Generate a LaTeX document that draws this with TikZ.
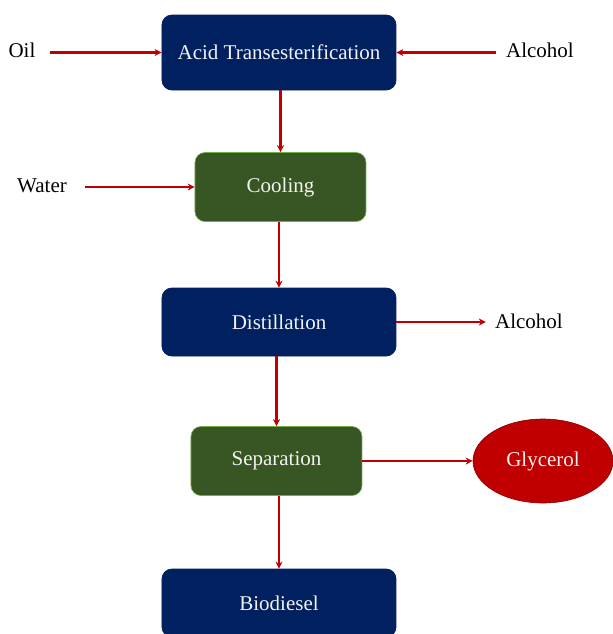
\documentclass[tikz,border=0pt]{standalone}
\usepackage{fontspec}
\setmainfont{Liberation Serif}
\usetikzlibrary{arrows.meta,shapes.geometric}
\definecolor{navybox}{HTML}{002060}
\definecolor{greenbox}{HTML}{375623}
\definecolor{greenline}{HTML}{70AD47}
\definecolor{redflow}{HTML}{C00000}
\definecolor{boxtext}{HTML}{F2F2F2}
\begin{document}
\begin{tikzpicture}[x=0.5pt, y=-0.5pt,
	  font=\fontsize{10.5}{12}\selectfont,
	  navy/.style={rectangle, rounded corners=5pt, fill=navybox, draw=navybox, text=boxtext, minimum width=117pt, minimum height=34pt},
	  green/.style={rectangle, rounded corners=5pt, fill=greenbox, draw=greenline, line width=0.3pt, text=boxtext, minimum width=85.5pt, minimum height=34.5pt},
	  label/.style={inner sep=0pt, text=black},
	  flow/.style={-{Stealth[length=3.5pt,width=3.5pt]}, draw=redflow, line width=1.3pt}]
	\useasboundingbox (0,0) rectangle (613,634);
	% process boxes
	\node[navy, minimum height=37.5pt] (acid) at (279,52.5) {Acid Transesterification};
	\node[green] (cool) at (280.5,187) {Cooling};
	\node[navy] (dist) at (279,322) {Distillation};
	\node[green] (sep) at (276.5,461) {Separation};
	\node[navy] (bio) at (279,603) {Biodiesel};
	\node[ellipse, fill=redflow, draw=redflow!70!black, line width=0.3pt, text=boxtext, minimum width=70pt, minimum height=42pt, inner sep=0pt] (gly) at (543,461) {Glycerol};
	% inputs and outputs
	\node[label] (oil) at (22,50) {Oil};
	\node[label] (alc-in) at (540,50) {Alcohol};
	\node[label] (water) at (42,186) {Water};
	\node[label] (alc-out) at (529,321) {Alcohol};
	% flows
	\path (oil.east |- acid) edge[flow, shorten <=7pt] (acid.west);
	\path (alc-in.west |- acid) edge[flow, shorten <=5pt] (acid.east);
	\path (acid.south -| cool) edge[flow] (cool.north);
	\path (water.east |- cool) edge[flow, shorten <=9pt] (cool.west);
	\path (cool.south -| dist) edge[flow] (dist.north);
	\path (dist.east) edge[flow, shorten >=4.5pt] (alc-out.west |- dist);
	\path (dist.south -| sep) edge[flow] (sep.north);
	\path (sep) edge[flow] (gly);
	\path (sep.south -| bio) edge[flow] (bio.north);
\end{tikzpicture}
\end{document}
